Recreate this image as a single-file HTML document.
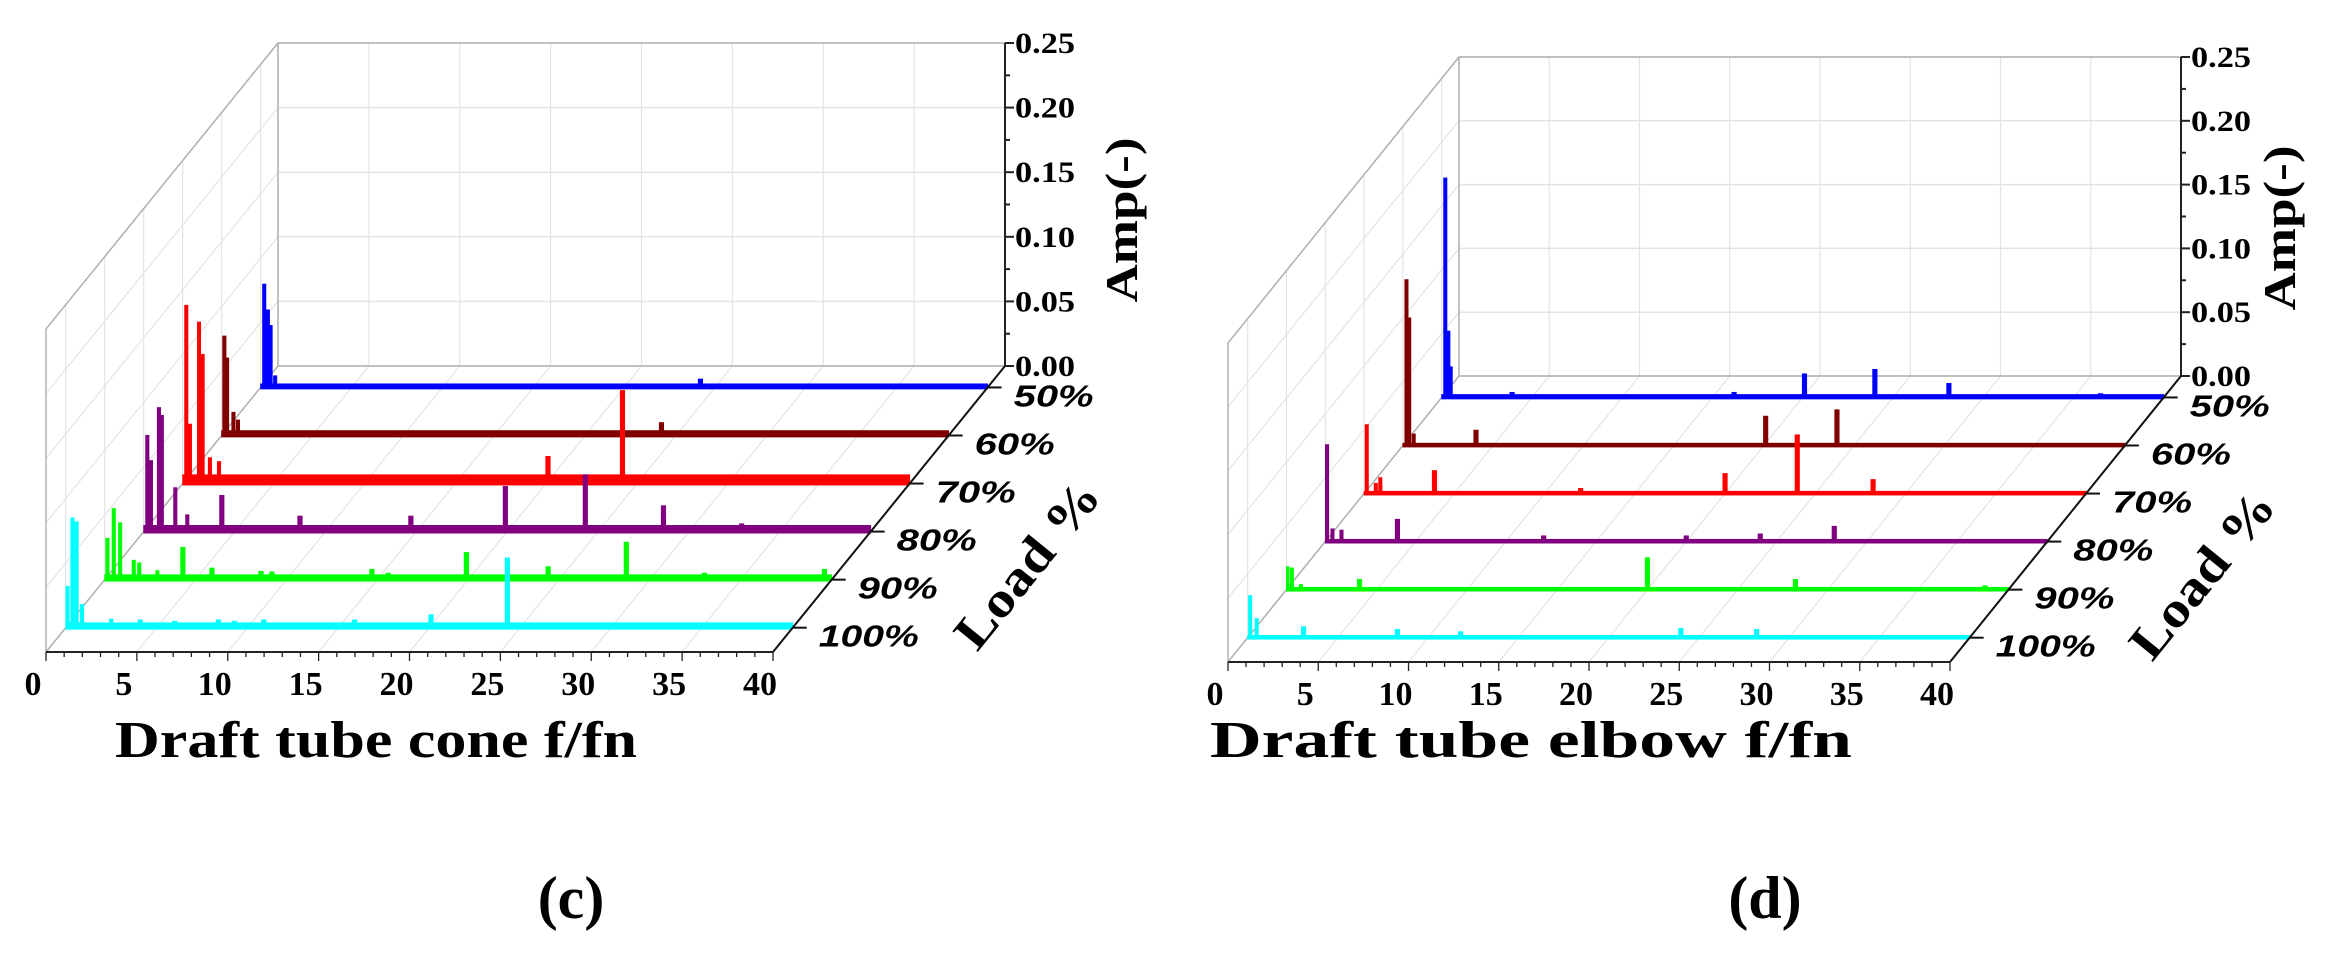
<!DOCTYPE html>
<html><head><meta charset="utf-8"><style>
html,body{margin:0;padding:0;background:#fff;}
svg{display:block;}
</style></head><body>
<svg id="fig" xmlns="http://www.w3.org/2000/svg" width="2330" height="955" viewBox="0 0 2330 955"></svg>
<script>
// ---- data ----
const loadLabels = ['50%','60%','70%','80%','90%','100%'];
const seriesColors = ['#0000ff','#800000','#ff0000','#800080','#00ff00','#00ffff'];
const xTicks = [0,5,10,15,20,25,30,35,40];
const yTicks = [0,0.05,0.10,0.15,0.20,0.25];
const yTickLabels = ['0.00','0.05','0.10','0.15','0.20','0.25'];

const coneFreqs = [
  [0.2,0.4,0.55,0.8,24.2],
  [0.15,0.3,0.65,0.9,24.2],
  [0.2,0.4,0.9,1.1,1.5,2.0,20.1,24.2],
  [0.2,0.4,0.84,1.0,1.74,2.4,4.3,8.6,14.7,19.9,24.3,28.6,32.9],
  [0.15,0.5,0.85,1.6,1.9,2.9,4.3,5.9,8.6,9.2,14.7,15.6,19.9,24.4,28.7,33,39.6],
  [0.1,0.37,0.6,0.9,2.5,4.1,6,8.4,9.3,10.9,15.9,20.1,24.3]
];
const coneAmps = [
  [0.08,0.06,0.048,0.009,0.0065],
  [0.077,0.06,0.018,0.012,0.01],
  [0.138,0.046,0.125,0.1,0.02,0.017,0.021,0.072],
  [0.0745,0.055,0.096,0.09,0.034,0.013,0.028,0.012,0.012,0.035,0.044,0.02,0.006],
  [0.032,0.055,0.044,0.015,0.013,0.007,0.025,0.009,0.0065,0.006,0.008,0.005,0.021,0.01,0.029,0.005,0.008],
  [0.032,0.085,0.082,0.018,0.0067,0.006,0.005,0.006,0.005,0.006,0.006,0.01,0.054]
];
const coneNoise = [0.002,0.003,0.006,0.004,0.003,0.003];

const elbowFreqs = [
  [0.2,0.37,0.5,3.9,16.2,20.1,24,28.1,36.5],
  [0.2,0.35,0.6,4.05,20.1,24.05],
  [0.15,0.65,0.9,3.9,12,20,24,28.2],
  [0.1,0.4,0.9,4,12.1,20,24.1,28.2],
  [0.05,0.3,0.8,4.05,20,28.2,38.7],
  [0.14,0.5,3.1,8.3,11.8,24,28.2]
];
const elbowAmps = [
  [0.172,0.052,0.024,0.004,0.004,0.0185,0.022,0.011,0.003],
  [0.13,0.1,0.009,0.012,0.023,0.028],
  [0.054,0.008,0.0125,0.018,0.004,0.0157,0.046,0.011],
  [0.076,0.01,0.009,0.0175,0.0045,0.0045,0.006,0.012],
  [0.018,0.017,0.004,0.008,0.025,0.008,0.003],
  [0.033,0.015,0.0086,0.0065,0.0047,0.0073,0.0065]
];
const elbowNoise = [0.0015,0.001,0.001,0.001,0.001,0.001];

// ---- drawing ----
const NS='http://www.w3.org/2000/svg';
const svg=document.getElementById('fig');
function mk(tag,parent,attrs){const e=document.createElementNS(NS,tag);for(const k in attrs)e.setAttribute(k,attrs[k]);parent.appendChild(e);return e;}

function drawChart(cfg){
  const g=mk('g',svg,{});
  
  
  const X0=cfg.X0,Y0=cfg.Y0,W=cfg.W,H=cfg.H,DX=cfg.DX,DY=cfg.DY;
  const xs=f=>X0+f/40*W;
  const ys=a=>Y0-a/0.25*H;
  const depth=i=>0.075+0.168*i;
  const grid='#e4e4e4', frame='#b0b0b0';
  yTicks.forEach(t=>{
    const l=mk('line',g,{x1:X0,y1:ys(t),x2:X0+W,y2:ys(t),stroke:grid,'stroke-width':1.5});
    
    
    const l2=mk('line',g,{x1:X0,y1:ys(t),x2:X0+DX,y2:ys(t)+DY,stroke:grid,'stroke-width':1.2});
    
    
  });
  xTicks.forEach(t=>{
    const l=mk('line',g,{x1:xs(t),y1:Y0,x2:xs(t),y2:Y0-H,stroke:grid,'stroke-width':1.2});
    
    
    const l2=mk('line',g,{x1:xs(t),y1:Y0,x2:xs(t)+DX,y2:Y0+DY,stroke:grid,'stroke-width':1.2});
    
    
  });
  loadLabels.forEach((lb,i)=>{
    const d=depth(i);
    const l=mk('line',g,{x1:X0+DX*d,y1:Y0+DY*d,x2:X0+DX*d,y2:Y0+DY*d-H,stroke:grid,'stroke-width':1.2});
    
    
  });
  const fr=mk('path',g,{d:`M${X0+W},${Y0-H} L${X0},${Y0-H} L${X0},${Y0} L${X0+W},${Y0} M${X0},${Y0-H} L${X0+DX},${Y0-H+DY} L${X0+DX},${Y0+DY} M${X0},${Y0} L${X0+DX},${Y0+DY}`,fill:'none',stroke:frame,'stroke-width':1.5});
  
  

  for(let i=0;i<loadLabels.length;i++){
    const d=depth(i), ox=DX*d, oy=DY*d;
    const s=mk('g',g,{transform:`translate(${ox},${oy})`,fill:seriesColors[i],stroke:seriesColors[i],'stroke-width':0.8});
    
    
    const nz=cfg.noise[i];
    const bh=(ys(0)-ys(nz))+2.5;
    const base=mk('rect',s,{x:xs(0),y:ys(0)-bh+1.5,width:W,height:bh});
    
    
    cfg.freqs[i].forEach((f,k)=>{
      const a=cfg.amps[i][k];
      const w=f<3?0.09:0.12;
      const x1=Math.max(xs(f-w),xs(0)), x2=xs(f+w);
      const p=mk('rect',s,{x:x1,y:ys(a),width:Math.max(x2-x1,2.5),height:ys(0)-ys(a)+1});
      
      
    });
  }

  const ya=mk('line',g,{x1:X0+W,y1:Y0,x2:X0+W,y2:Y0-H,stroke:'#222','stroke-width':2});
  
  
  for(let k=0;k<=10;k++){
    const v=k*0.025, major=k%2===0;
    const t=mk('line',g,{x1:X0+W,y1:ys(v),x2:X0+W+(major?9:5),y2:ys(v),stroke:'#222','stroke-width':2});
    
    
  }
  yTicks.forEach((t,k)=>{
    const tx=mk('text',g,{x:X0+W+10,y:ys(t)+10,'font-family':'"Liberation Serif",serif','font-weight':'bold','font-size':30,fill:'#000',textLength:60,lengthAdjust:'spacingAndGlyphs'});
    tx.textContent=yTickLabels[k];
    
    
  });
  const at=mk('text',g,{x:0,y:0,transform:`translate(${cfg.ampX},${cfg.ampY}) rotate(-90)`,'text-anchor':'middle','font-family':'"Liberation Serif",serif','font-weight':'bold','font-size':46,fill:'#000',textLength:165,lengthAdjust:'spacingAndGlyphs'});
  at.textContent='Amp(-)';
  
  

  const da=mk('line',g,{x1:X0+W,y1:Y0,x2:X0+W+DX,y2:Y0+DY,stroke:'#111','stroke-width':2});
  
  
  loadLabels.forEach((lb,i)=>{
    const d=depth(i), px=X0+W+DX*d, py=Y0+DY*d;
    const t=mk('line',g,{x1:px,y1:py,x2:px+14,y2:py,stroke:'#111','stroke-width':2});
    
    
    const tx=mk('text',g,{x:px+26,y:py+19,'font-family':'"Liberation Sans",sans-serif','font-weight':'bold','font-style':'italic','font-size':31,fill:'#000',textLength:lb.length===4?100:80,lengthAdjust:'spacingAndGlyphs'});
    tx.textContent=lb;
    
    
  });
  const lt=mk('text',g,{x:0,y:0,transform:`translate(${cfg.loadX},${cfg.loadY}) rotate(-51)`,'text-anchor':'middle','font-family':'"Liberation Serif",serif','font-weight':'bold','font-size':50,fill:'#000',textLength:200,lengthAdjust:'spacingAndGlyphs'});
  lt.textContent='Load %';
  
  

  const FX=X0+DX, FY=Y0+DY;
  const xa=mk('line',g,{x1:FX,y1:FY,x2:FX+W,y2:FY,stroke:'#222','stroke-width':2});
  
  
  for(let k=0;k<=40;k++){
    const major=k%5===0;
    const t=mk('line',g,{x1:FX+k/40*W,y1:FY,x2:FX+k/40*W,y2:FY+(major?9:5),stroke:'#222','stroke-width':1.3});
    
    
  }
  xTicks.forEach(t=>{
    const tx=mk('text',g,{x:FX+t/40*W-13,y:FY+43,'text-anchor':'middle','font-family':'"Liberation Serif",serif','font-weight':'bold','font-size':34,fill:'#000'});
    tx.textContent=String(t);
    
    
  });
  const tt=mk('text',g,{x:cfg.titleX,y:757,'font-family':'"Liberation Serif",serif','font-weight':'bold','font-size':52,fill:'#000',textLength:cfg.titleLen,lengthAdjust:'spacingAndGlyphs'});
  tt.textContent=cfg.title;
  
  
  const pl=mk('text',g,{x:cfg.panelX,y:918,'text-anchor':'middle','font-family':'"Liberation Serif",serif','font-weight':'bold','font-size':60,fill:'#000'});
  pl.textContent=cfg.panel;
  
  
}

drawChart({name:'cone-waterfall-chart',X0:278,Y0:366,W:727,H:323,DX:-232,DY:286,freqs:coneFreqs,amps:coneAmps,noise:coneNoise,ampX:1137,ampY:220,loadX:1040,loadY:575,title:'Draft tube cone f/fn',titleX:115,titleLen:522,panel:'(c)',panelX:571});
drawChart({name:'elbow-waterfall-chart',X0:1459,Y0:376,W:722,H:319,DX:-231,DY:286,freqs:elbowFreqs,amps:elbowAmps,noise:elbowNoise,ampX:2295,ampY:228,loadX:2215,loadY:585,title:'Draft tube elbow f/fn',titleX:1210,titleLen:642,panel:'(d)',panelX:1765});
</script>
</body></html>
